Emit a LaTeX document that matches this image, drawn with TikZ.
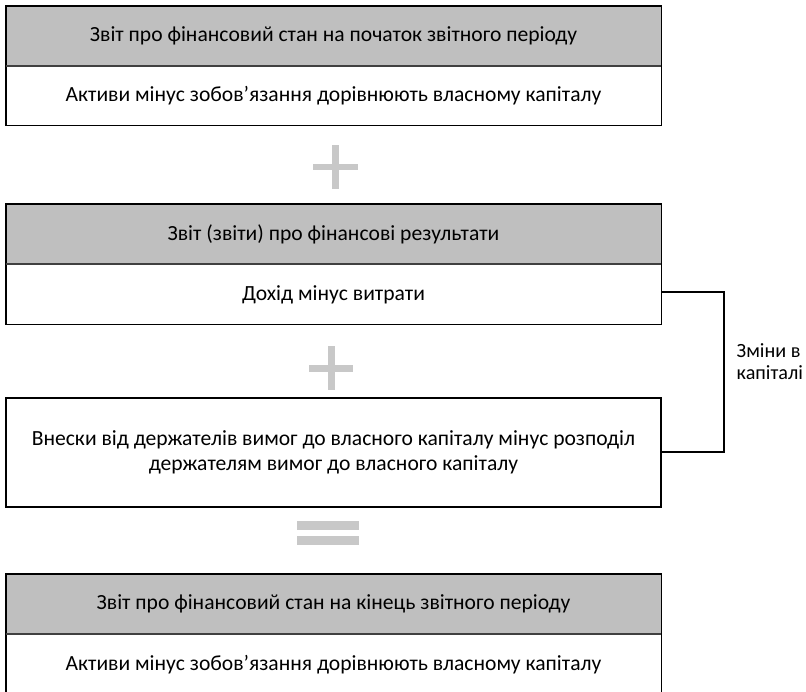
\documentclass[tikz,border=0pt]{standalone}
\usepackage{fontspec}
\setmainfont{Carlito}
\begin{document}
\begin{tikzpicture}[x=1pt,y=-1pt,
  hdr/.style={fill=hdrgray, draw=none, minimum width=655pt, minimum height=60pt, inner sep=0pt, font=\fontsize{21.6}{25}\selectfont},
  bdy/.style={fill=white, draw=none, minimum width=655pt, minimum height=59pt, inner sep=0pt, font=\fontsize{21.6}{25}\selectfont},
  outer/.style={draw=black, line width=1.4pt},
  sep/.style={draw=sepgray, line width=2pt},
  sign/.style={fill=signgray, draw=none},
  link/.style={draw=black, line width=1.4pt}]
\definecolor{hdrgray}{RGB}{191,191,191}
\definecolor{sepgray}{RGB}{64,64,64}
\definecolor{signgray}{RGB}{200,200,200}
\useasboundingbox (0,0) rectangle (806,691);
% box 1
\node[hdr] (h1) at (333.5,36) {Звіт про фінансовий стан на початок звітного періоду};
\node[bdy, anchor=north] (b1) at (h1.south) {Активи мінус зобов’язання дорівнюють власному капіталу};
\draw[outer] (h1.north west) rectangle (b1.south east);
\draw[sep] (h1.south west) -- (h1.south east);
% plus 1
\fill[sign] (332,145) rectangle (339,189);
\fill[sign] (313,164) rectangle (358,170);
% box 2
\node[hdr] (h2) at (333.5,234) {Звіт (звіти) про фінансові результати};
\node[bdy, minimum height=60pt, anchor=north] (b2) at (h2.south) {Дохід мінус витрати};
\draw[outer] (h2.north west) rectangle (b2.south east);
\draw[sep] (h2.south west) -- (h2.south east);
% plus 2
\fill[sign] (328,346) rectangle (335,390);
\fill[sign] (309,365) rectangle (353,372);
% box 3
\node[draw=black, line width=1.4pt, minimum width=655pt, minimum height=109pt, inner sep=0pt, align=center, font=\fontsize{21.6}{25}\selectfont] (b3) at (333.5,452.5) {Внески від держателів вимог до власного капіталу мінус розподіл\\держателям вимог до власного капіталу};
% equals
\fill[sign] (297,521) rectangle (359,530);
\fill[sign] (297,536) rectangle (359,545);
% box 4
\node[hdr] (h4) at (333.5,604) {Звіт про фінансовий стан на кінець звітного періоду};
\node[bdy, minimum height=60pt, anchor=north] (b4) at (h4.south) {Активи мінус зобов’язання дорівнюють власному капіталу};
\draw[outer] (h4.north west) rectangle (b4.south east);
\draw[sep] (h4.south west) -- (h4.south east);
% bracket
\coordinate (bt) at (724,292);
\coordinate (bb) at (724,452);
\draw[link] (b2.east |- bt) -- (bt) -- (bb) -- (b3.east |- bb);
\node[anchor=base west, align=left, inner sep=0pt, font=\fontsize{20.2}{22}\selectfont] (lbl) at (736.5,379) {Зміни в\\капіталі};
\end{tikzpicture}
\end{document}
